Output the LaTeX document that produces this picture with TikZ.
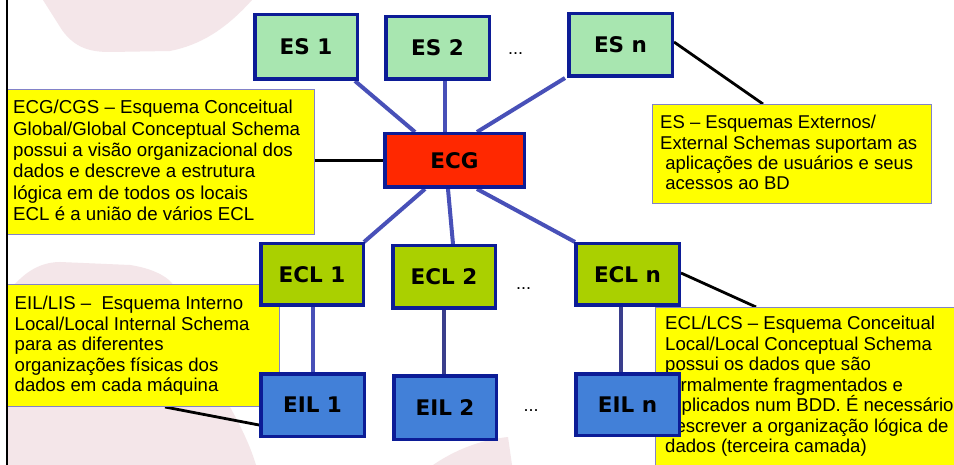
\documentclass[tikz,border=0pt]{standalone}
\usepackage{fontspec}
\setmainfont{Liberation Sans}
\newfontfamily\boxfont{DejaVu Sans}
\usetikzlibrary{calc}
\definecolor{navy}{RGB}{12,28,150}
\definecolor{esfill}{RGB}{168,230,176}
\definecolor{ecgfill}{RGB}{255,40,0}
\definecolor{eclfill}{RGB}{170,208,0}
\definecolor{eilfill}{RGB}{66,128,216}
\definecolor{linkblue}{RGB}{72,80,184}
\definecolor{linkdark}{RGB}{58,62,140}
\definecolor{calloutedge}{RGB}{130,130,200}
\definecolor{callyellow}{RGB}{255,255,0}
\definecolor{bgpink}{RGB}{244,230,233}
\pgfdeclarelayer{bglayer}
\pgfdeclarelayer{midlayer}
\pgfsetlayers{bglayer,midlayer,main}
\tikzset{
  box/.style={draw=navy, line width=3.5pt, inner sep=0pt, font=\boxfont\bfseries\fontsize{21.5}{24}\selectfont},
  sz/.style 2 args={minimum width=#1, minimum height=#2},
  link/.style={draw=linkblue, line width=4pt},
  lead/.style={draw=black, line width=2.8pt},
  callout/.style={draw=calloutedge, fill=callyellow, line width=1pt, inner sep=0pt},
  ctext/.style={anchor=north west, inner sep=0pt, align=left},
  dotsnode/.style={font=\fontsize{18}{20}\selectfont, inner sep=0pt, anchor=base},
}
\begin{document}
\begin{tikzpicture}[x=1pt,y=-1pt]
\useasboundingbox (0,0) rectangle (954,465);
\clip (0,0) rectangle (954,465);

% schema boxes (top layer)
\node[box, fill=esfill, sz={102.5pt}{64.5pt}] (es1) at (306,47) {ES 1};
\node[box, fill=esfill, sz={103.5pt}{62.5pt}] (es2) at (437.5,48) {ES 2};
\node[box, fill=esfill, sz={103.5pt}{62.5pt}] (esn) at (620.5,45) {ES n};
\node[box, fill=ecgfill, sz={139.5pt}{53.5pt}] (ecg) at (454.5,160.5) {ECG};
\node[box, fill=eclfill, sz={102.5pt}{61.5pt}] (ecl1) at (312,274.5) {ECL 1};
\node[box, fill=eclfill, sz={102.5pt}{62.5pt}] (ecl2) at (444,277) {ECL 2};
\node[box, fill=eclfill, sz={103.5pt}{61.5pt}] (ecln) at (627.5,274.5) {ECL n};
\node[box, fill=eilfill, sz={103.5pt}{62.5pt}] (eil1) at (312.5,405) {EIL 1};
\node[box, fill=eilfill, sz={102.5pt}{63.5pt}] (eil2) at (445,407.5) {EIL 2};
\node[box, fill=eilfill, sz={103.5pt}{61.5pt}] (eiln) at (627.5,404.5) {EIL n};

\node[dotsnode] (dots1) at (515.5,55) {...};
\node[dotsnode] (dots2) at (523.5,290) {...};
\node[dotsnode] (dots3) at (531,411) {...};

\begin{pgfonlayer}{midlayer}
\node[callout, minimum width=307pt, minimum height=145pt] (cgs) at (161,162) {};
\node[callout, minimum width=279pt, minimum height=99pt] (esc) at (792,154) {};
\node[callout, minimum width=272pt, minimum height=122pt] (lis) at (143.5,345.5) {};
\node[callout, minimum width=344pt, minimum height=182pt] (lcs) at (827.5,398.5) {};

\node[ctext, font=\fontsize{18.7}{21.3}\selectfont] (cgstext) at (13,98.8)
 {\strut ECG/CGS – Esquema Conceitual\\ Global/Global Conceptual Schema\\ possui a visão organizacional dos\\ dados e descreve a estrutura\\ lógica em de todos os locais\\ ECL é a união de vários ECL};
\node[ctext, font=\fontsize{18.5}{20.4}\selectfont] (esctext) at (660,114.3)
 {\strut ES – Esquemas Externos/\\ External Schemas suportam as\\ \ aplicações de usuários e seus\\ \ acessos ao BD};
\node[ctext, font=\fontsize{18.6}{20.5}\selectfont] (listext) at (14.5,295.3)
 {\strut EIL/LIS –\ \ Esquema Interno\\ Local/Local Internal Schema\\ para as diferentes\\ organizações físicas dos\\ dados em cada máquina};
\node[ctext, font=\fontsize{18.6}{20.5}\selectfont] (lcstext) at (665,315.3)
 {\strut ECL/LCS – Esquema Conceitual\\ Local/Local Conceptual Schema\\ possui os dados que são\\ formalmente fragmentados e\\ replicados num BDD. É necessário\\ descrever a organização lógica de\\ dados (terceira camada)};
\end{pgfonlayer}

\begin{pgfonlayer}{bglayer}
\fill[white] (0,0) rectangle (954,465);
\fill[bgpink] (43,0) -- (62,30) .. controls (75,48) and (90,52) .. (110,52) -- (170,51) .. controls (200,45) and (225,30) .. (252,0) -- cycle;
\fill[bgpink] (16,283) .. controls (30,268) and (45,262) .. (60,262) -- (130,265) .. controls (150,268) and (165,275) .. (172,283) -- (230,407) .. controls (240,425) and (250,445) .. (256,465) -- (7,465) -- (7,290) -- cycle;
\fill[bgpink] (433,465) .. controls (455,450) and (480,440) .. (508,437) -- (512,465) -- cycle;

\draw[link] ([xshift=-4pt]es1.south east) -- ([xshift=-39.5pt]ecg.north);
\draw[link] ([xshift=7.5pt]es2.south) -- ([xshift=-9.5pt]ecg.north);
\draw[link] ([xshift=-2pt]esn.south west) -- ([xshift=22.5pt]ecg.north);
\draw[link] ([xshift=-29.5pt]ecg.south) -- ([xshift=-1pt]ecl1.north east);
\draw[link] ([xshift=-6.5pt]ecg.south) -- ([xshift=9pt]ecl2.north);
\draw[link] ([xshift=22.5pt]ecg.south) -- ([xshift=1pt]ecln.north west);
\draw[link] ([xshift=1pt]ecl1.south) -- ([xshift=0.5pt]eil1.north);
\draw[link, draw=linkdark] (ecl2.south) -- ([xshift=-1pt]eil2.north);
\draw[link, draw=linkdark] ([xshift=-6.5pt]ecln.south) -- ([xshift=-6.5pt]eiln.north);

\draw[lead] (ecg.west -| cgs.east) -- (ecg.west);
\draw[lead] ([yshift=3pt]esn.east) -- ([xshift=-29pt]esc.north);
\draw[lead] ([yshift=1.5pt]ecln.east) -- ([xshift=-71.5pt]lcs.north);
\draw[lead] ([xshift=21.5pt]lis.south) -- ([yshift=-20pt]eil1.west);
\end{pgfonlayer}

\draw[black, line width=2.5pt] (7,0) -- (7,465);
\end{tikzpicture}
\end{document}
